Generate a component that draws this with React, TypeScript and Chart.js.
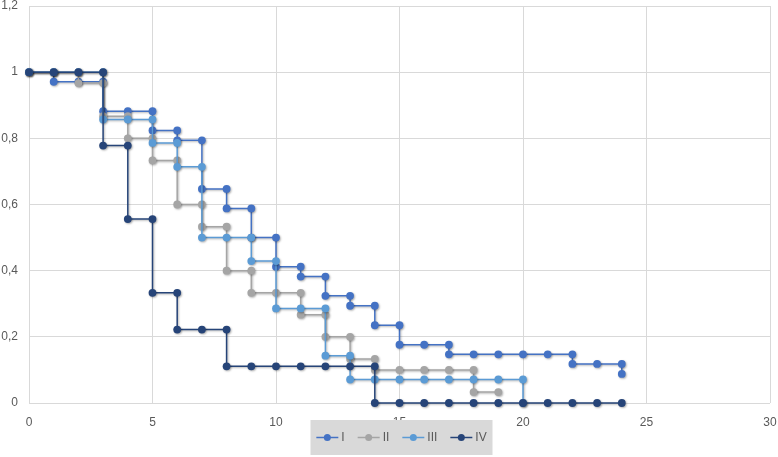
import React, { useEffect, useRef } from "react";
import { Chart, registerables } from "chart.js";

Chart.register(...registerables);

const seriesNames = ["I", "II", "III", "IV"];
const seriesColors = ["#4472C4", "#A5A5A5", "#5B9BD5", "#264478"];

const seriesIX = [0, 1, 1, 2, 3, 3, 4, 5, 5, 6, 6, 7, 7, 8, 8, 9, 9, 10, 10, 11, 11, 12, 12, 13, 13, 14, 14, 15, 15, 16, 17, 17, 18, 19, 20, 21, 22, 22, 23, 24, 24];
const seriesIY = [1, 1, 0.971, 0.971, 0.971, 0.882, 0.882, 0.882, 0.824, 0.824, 0.794, 0.794, 0.647, 0.647, 0.588, 0.588, 0.5, 0.5, 0.412, 0.412, 0.382, 0.382, 0.324, 0.324, 0.294, 0.294, 0.235, 0.235, 0.176, 0.176, 0.176, 0.147, 0.147, 0.147, 0.147, 0.147, 0.147, 0.118, 0.118, 0.118, 0.088];

const seriesIIX = [0, 1, 2, 2, 3, 3, 4, 4, 5, 5, 6, 6, 7, 7, 8, 8, 9, 9, 10, 11, 11, 12, 12, 13, 13, 14, 14, 15, 16, 17, 18, 18, 19];
const seriesIIY = [1, 1, 1, 0.967, 0.967, 0.867, 0.867, 0.8, 0.8, 0.733, 0.733, 0.6, 0.6, 0.533, 0.533, 0.4, 0.4, 0.333, 0.333, 0.333, 0.267, 0.267, 0.2, 0.2, 0.133, 0.133, 0.1, 0.1, 0.1, 0.1, 0.1, 0.033, 0.033];

const seriesIIIX = [0, 1, 2, 3, 3, 4, 5, 5, 6, 6, 7, 7, 8, 9, 9, 10, 10, 11, 12, 12, 13, 13, 14, 15, 16, 17, 18, 19, 20, 20];
const seriesIIIY = [1, 1, 1, 1, 0.857, 0.857, 0.857, 0.786, 0.786, 0.714, 0.714, 0.5, 0.5, 0.5, 0.429, 0.429, 0.286, 0.286, 0.286, 0.143, 0.143, 0.071, 0.071, 0.071, 0.071, 0.071, 0.071, 0.071, 0.071, 0];

const seriesIVX = [0, 1, 2, 3, 3, 4, 4, 5, 5, 6, 6, 7, 8, 8, 9, 10, 11, 12, 13, 14, 14, 15, 16, 17, 18, 19, 20, 21, 22, 23, 24];
const seriesIVY = [1, 1, 1, 1, 0.778, 0.778, 0.556, 0.556, 0.333, 0.333, 0.222, 0.222, 0.222, 0.111, 0.111, 0.111, 0.111, 0.111, 0.111, 0.111, 0, 0, 0, 0, 0, 0, 0, 0, 0, 0, 0];

const xTickLabels = ["0", "5", "10", "15", "20", "25", "30"];
const yTickLabels = ["0", "0,2", "0,4", "0,6", "0,8", "1", "1,2"];

const allX = [seriesIX, seriesIIX, seriesIIIX, seriesIVX];
const allY = [seriesIY, seriesIIY, seriesIIIY, seriesIVY];

const FONT = "'Liberation Sans', Arial, sans-serif";
const TEXT_COLOR = "#595959";

const shadowPlugin = {
  id: "markerShadow",
  beforeDatasetsDraw(chart: any) {
    const ctx = chart.ctx;
    ctx.save();
    ctx.shadowColor = "rgba(0,0,0,0.3)";
    ctx.shadowBlur = 2;
    ctx.shadowOffsetX = 1;
    ctx.shadowOffsetY = 1;
  },
  afterDatasetsDraw(chart: any) {
    chart.ctx.restore();
  },
};

const legendPlugin = {
  id: "boxLegend",
  afterDraw(chart: any) {
    const ctx = chart.ctx;
    const area = chart.chartArea;
    const boxW = 182;
    const boxH = 35;
    const cx = (area.left + area.right) / 2 + 2;
    const top = area.bottom + 17;
    const left = cx - boxW / 2;
    ctx.save();
    ctx.fillStyle = "#D9D9D9";
    ctx.fillRect(left, top, boxW, boxH);
    ctx.font = `12px ${FONT}`;
    const lineLen = 22;
    const gap = 3;
    const spacing = 13;
    const widths = seriesNames.map((n) => lineLen + gap + ctx.measureText(n).width);
    const total = widths.reduce((a, b) => a + b, 0) + spacing * (seriesNames.length - 1);
    let x = cx - total / 2;
    const cy = top + boxH / 2;
    seriesNames.forEach((name, i) => {
      ctx.strokeStyle = seriesColors[i];
      ctx.lineWidth = 1.5;
      ctx.beginPath();
      ctx.moveTo(x, cy);
      ctx.lineTo(x + lineLen, cy);
      ctx.stroke();
      ctx.fillStyle = seriesColors[i];
      ctx.beginPath();
      ctx.arc(x + lineLen / 2, cy, 3.5, 0, Math.PI * 2);
      ctx.fill();
      ctx.fillStyle = TEXT_COLOR;
      ctx.textBaseline = "middle";
      ctx.textAlign = "left";
      ctx.fillText(name, x + lineLen + gap, cy + 0.5);
      x += widths[i] + spacing;
    });
    ctx.restore();
  },
};

export default function App() {
  const canvasRef = useRef<HTMLCanvasElement | null>(null);

  useEffect(() => {
    if (!canvasRef.current) return;
    const datasets = seriesNames.map((name, i) => ({
      label: name,
      data: allX[i].map((x, j) => ({ x, y: allY[i][j] })),
      showLine: true,
      borderColor: seriesColors[i],
      backgroundColor: seriesColors[i],
      pointBackgroundColor: seriesColors[i],
      pointBorderColor: seriesColors[i],
      pointBorderWidth: 0,
      pointRadius: 3.9,
      borderWidth: 1.5,
      tension: 0,
      order: seriesNames.length - i,
      clip: false as any,
    }));

    const chart = new Chart(canvasRef.current, {
      type: "scatter",
      data: { datasets },
      plugins: [shadowPlugin, legendPlugin],
      options: {
        animation: false,
        responsive: false,
        maintainAspectRatio: false,
        layout: { padding: 0 },
        plugins: {
          legend: { display: false },
          tooltip: { enabled: false },
        },
        scales: {
          x: {
            type: "linear",
            min: 0,
            max: 30,
            afterFit: (s: any) => {
              s.height = 54;
              s.paddingLeft = 0;
              s.paddingRight = 8;
            },
            ticks: {
              stepSize: 5,
              color: TEXT_COLOR,
              font: { family: FONT, size: 12 },
              padding: 12,
              callback: (v: any) => xTickLabels[Math.round(Number(v) / 5)] ?? "",
            },
            grid: { color: "#D9D9D9", drawTicks: false, lineWidth: 1 },
            border: { display: false },
          },
          y: {
            type: "linear",
            min: 0,
            max: 1.2,
            afterFit: (s: any) => {
              s.width = 29;
              s.paddingTop = 6;
              s.paddingBottom = 0;
            },
            ticks: {
              stepSize: 0.2,
              color: TEXT_COLOR,
              font: { family: FONT, size: 12 },
              padding: 11,
              callback: (v: any) => yTickLabels[Math.round(Number(v) / 0.2)] ?? "",
            },
            grid: { color: "#D9D9D9", drawTicks: false, lineWidth: 1 },
            border: { display: false },
          },
        },
      },
    });
    return () => chart.destroy();
  }, []);

  return (
    <div style={{ position: "fixed", left: 0, top: 0, width: 778, height: 457, background: "#FFFFFF" }}>
      <canvas ref={canvasRef} width={778} height={457} style={{ width: 778, height: 457, display: "block" }} />
    </div>
  );
}
